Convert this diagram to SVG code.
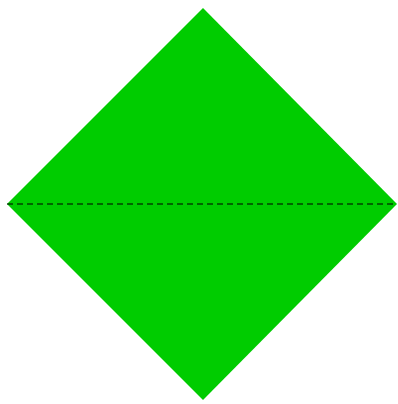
<svg xmlns="http://www.w3.org/2000/svg" width="398" height="404" viewBox="0 0 398 404">
<style>.d{fill:#00cc00;stroke:none}.l{stroke:#000;stroke-width:1.2;stroke-dasharray:6 4;fill:none}</style>
<rect width="398" height="404" fill="#fff"/>
<g id="diamond"><polygon class="d" points="203,8 397,204 203,400 7,204"/></g>
<g id="connectors"><line class="l" x1="7" y1="204" x2="397" y2="204"/></g>
</svg>
